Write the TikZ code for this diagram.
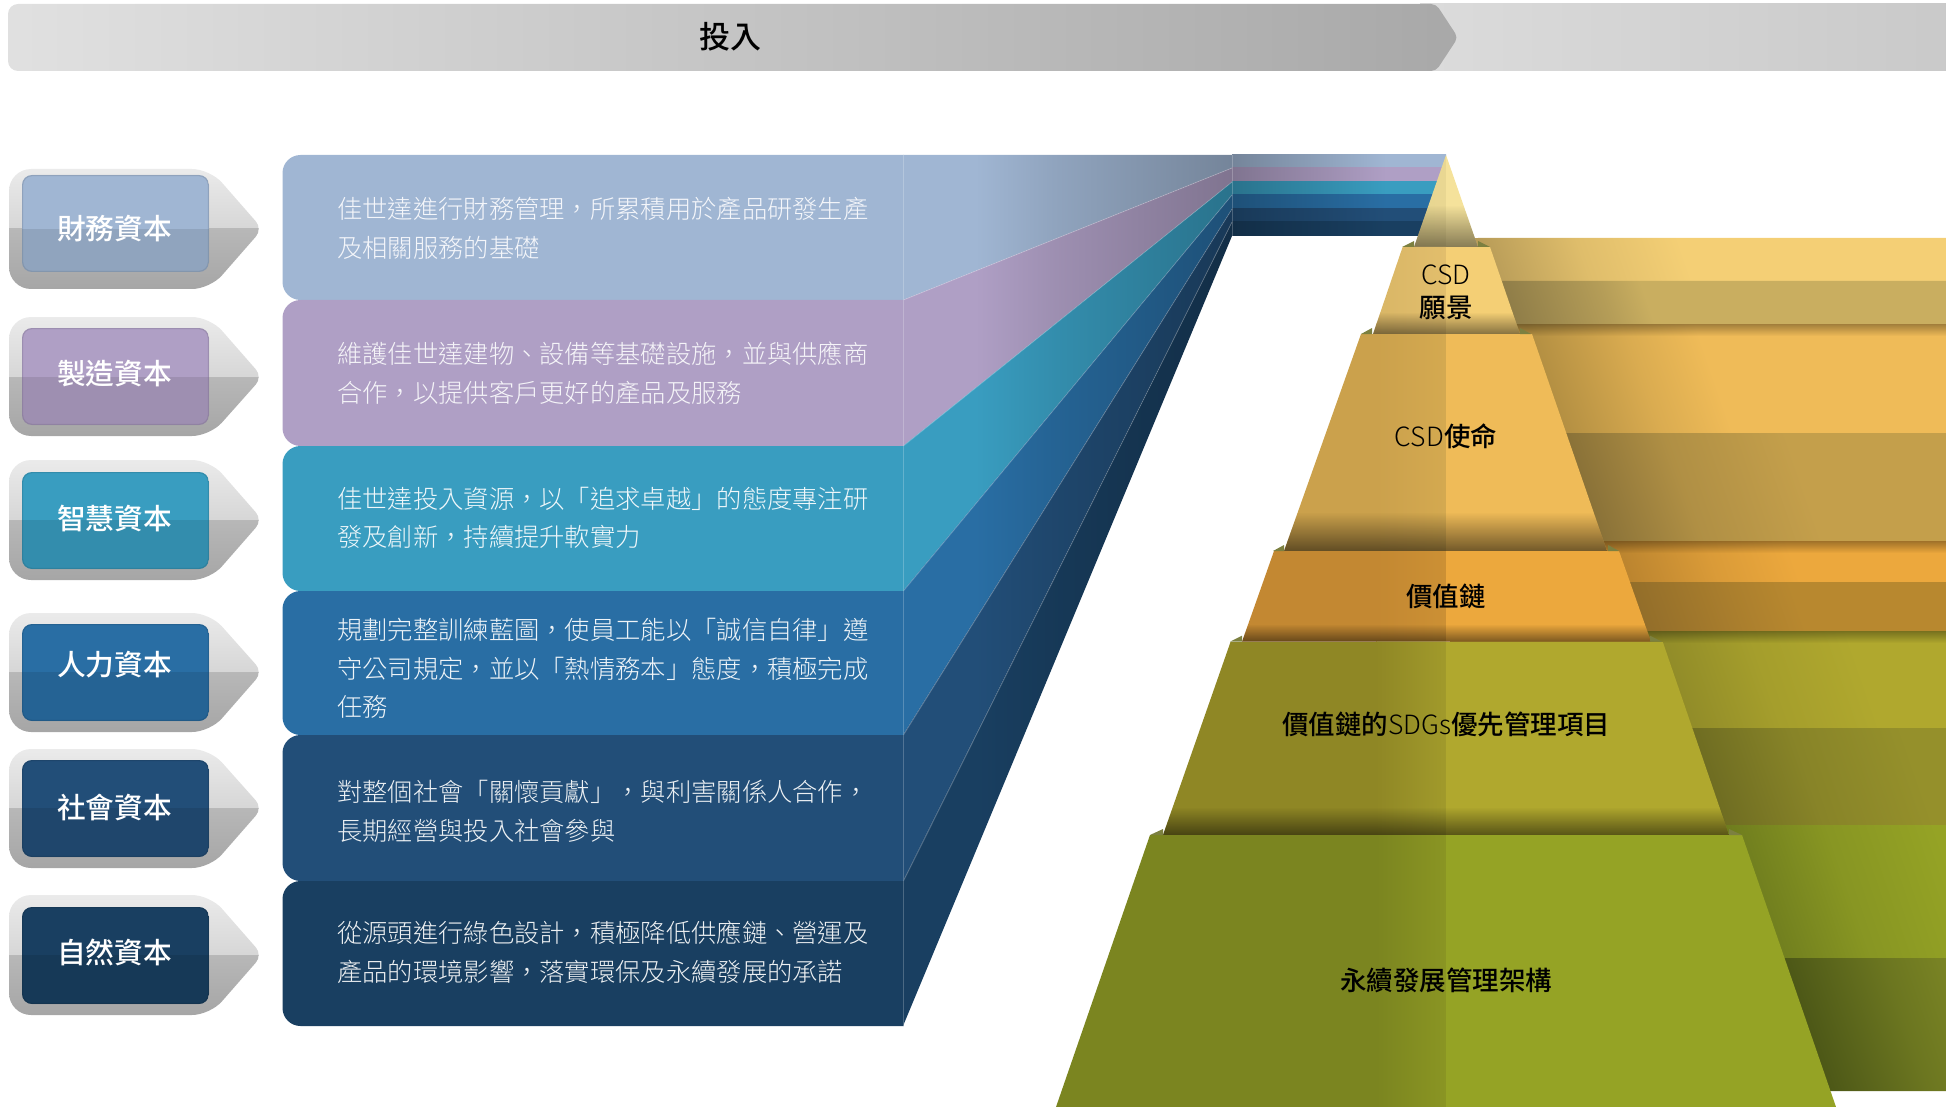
\documentclass[tikz,border=0pt]{standalone}
\usepackage{fontspec}
\setmainfont{Noto Sans CJK TC}
\newfontfamily\lightcjk{Noto Sans CJK TC Light}
\newfontfamily\medcjk{Noto Sans CJK TC Medium}
\usetikzlibrary{fadings}
\definecolor{cA}{HTML}{A0B6D3}
\definecolor{cB}{HTML}{AF9FC5}
\definecolor{cC}{HTML}{399DC0}
\definecolor{cD}{HTML}{296EA4}
\definecolor{cE}{HTML}{224E78}
\definecolor{cF}{HTML}{193F61}
\definecolor{wing}{HTML}{7C8040}
\tikzset{
  paneltext/.style={anchor=west,inner sep=0pt,align=left,font=\fontsize{25.3}{38.6}\selectfont\lightcjk},
  btntext/.style={inner sep=0pt,text=white,font=\fontsize{28.7}{30}\selectfont\medcjk},
  tiertext/.style={inner sep=0pt,text=black,font=\fontsize{26.5}{30}\selectfont},
  seam/.style={white,opacity=.22,line width=.8pt}
}
% panel: #1 colour, #2 top, #3 bottom
\newcommand{\mkpanel}[3]{%
  \fill[#1] (282.5,#2) [rounded corners=18pt] -- (282.5,#3) [sharp corners] -- (903.5,#3) -- (903.5,#2) [rounded corners=18pt] -- cycle;
}
% band: #1 colour, #2 #3 left y, #4 #5 y at the bend
\newcommand{\mkband}[5]{%
  \colorlet{bd}{#1!73!black}\colorlet{bm}{#1!90!black}\colorlet{bf}{#1}%
  \pgfdeclarehorizontalshading{bdgo#1}{100bp}{color(0bp)=(bf); color(25bp)=(bf); color(36bp)=(bf); color(48bp)=(bm); color(75bp)=(bd); color(100bp)=(bd)}%
  \pgfdeclarehorizontalshading{bdback#1}{100bp}{color(0bp)=(bd); color(25bp)=(bd); color(48bp)=(bm); color(61bp)=(bf); color(100bp)=(bf)}%
  \begin{scope}
    \clip (903,#2) -- (1232,#4) -- (1232,#5) -- (903,#3) -- cycle;
    \shade[shading=bdgo#1] (903,155) rectangle (1232,1026);
  \end{scope}
  \shade[shading=bdback#1] (1232,#4) rectangle (1446,#5);
}
% button: #1 colour, #2 outer top, #3 mid, #4 outer bottom, #5 inner top, #6 inner bottom
\newcommand{\mkbtn}[6]{%
  \begin{scope}
    \clip (9,#2) [rounded corners=22pt] -- (9,#4) [rounded corners=18pt] -- (210,#4) [rounded corners=10pt] -- (262.5,#3) [rounded corners=18pt] -- (210,#2) [rounded corners=22pt] -- cycle;
    \shade[top color=white!92!black,bottom color=white!84!black] (0,#2) rectangle (270,#3);
    \shade[top color=white!72!black,bottom color=white!65!black] (0,#3) rectangle (270,#4);
  \end{scope}
  \begin{scope}
    \clip[rounded corners=10pt] (22,#5) rectangle (209,#6);
    \fill[#1] (22,#5) rectangle (209,#3);
    \fill[#1!90!black] (22,#3) rectangle (209,#6);
    \draw[#1!65!black,opacity=.3,line width=2.4pt,rounded corners=10pt] (22,#5) rectangle (209,#6);
  \end{scope}
}
% ribbon: #1 top, #2 bottom, #3 x of the gradient start at the top, #4 stop (25+width/14), #5 dark, #6 full
\newcommand{\mkribbon}[6]{%
  \definecolor{rd}{HTML}{#5}\definecolor{rf}{HTML}{#6}\colorlet{rm}{rd!35!rf}%
  \pgfdeclarehorizontalshading{rib#1}{100bp}{color(0bp)=(rd); color(25bp)=(rd); color(32bp)=(rm); color(#4bp)=(rf); color(100bp)=(rf)}%
  \begin{scope}
    \clip (1450,#1) rectangle (1946,#2);
    \fill[rd] (1450,#1) rectangle (#3+60,#2);
    \begin{scope}[transform canvas={xslant=-.345}]
      \shade[shading=rib#1] (#3-.345*#1,#1) rectangle (#3-.345*#1+700,#2);
    \end{scope}
  \end{scope}
}
% tier: #1 yt,#2 yb,#3 xtl,#4 xtr,#5 xbl,#6 xbr,#7 left dark,#8 left near centre,#9 right
\newcommand{\mktier}[9]{%
  \definecolor{ta}{HTML}{#7}\definecolor{tb}{HTML}{#8}\definecolor{tc}{HTML}{#9}%
  \begin{scope}
    \clip (#3,#1) -- (#4,#1) -- (#6,#2) -- (#5,#2) -- cycle;
    \fill[ta] (#5,#1) rectangle (1376.5,#2);
    \shade[left color=ta,right color=tb] (1376,#1) rectangle (1446,#2);
    \fill[tc] (1446,#1) rectangle (#6,#2);
  \end{scope}
}
% dark zone at the foot of a tier: #1 yt,#2 yb,#3 xtl,#4 xtr,#5 xbl,#6 xbr,#7 start,#8 opacity
\newcommand{\mkfoot}[8]{%
  \begin{scope}
    \clip (#3,#1) -- (#4,#1) -- (#6,#2) -- (#5,#2) -- cycle;
    \fill[black,opacity=#8,path fading=north] (#5,#7) rectangle (#6,#2);
  \end{scope}
}
\newcommand{\mkshadow}[2]{%
  \fill[black,opacity=.32,path fading=south] (1450,#1) rectangle (1946,#2);
}
\newcommand{\mkwings}[3]{% #1 y, #2 half-width inner, #3 half-width outer
  \fill[wing] (1446-#3,#1) -- (1446-#2,#1-6) -- (1446-#2,#1) -- cycle;
  \fill[wing] (1446+#3,#1) -- (1446+#2,#1-6) -- (1446+#2,#1) -- cycle;
}
\begin{document}
\begin{tikzpicture}[x=1pt,y=-1pt]
\useasboundingbox (0,0) rectangle (1946,1107);
% header bar
\shade[left color=white!86!black,right color=white!79!black] (1420,4) rectangle (1946,71);
\shade[left color=white!88!black,right color=white!66!black,rounded corners=10pt]
  (8,4) -- (8,71) [rounded corners=5pt] -- (1436,71) -- (1458,37.5) -- (1436,4) [rounded corners=10pt] -- cycle;
\node[inner sep=0pt,text=black,font=\fontsize{31}{34}\selectfont\medcjk] (header) at (730,37) {投入};
% bands behind the panels
\mkband{cA}{155}{300}{155}{168}
\mkband{cB}{300}{446}{168}{182}
\mkband{cC}{446}{591}{182}{195}
\mkband{cD}{591}{735}{195}{209}
\mkband{cE}{735}{881}{209}{222}
\mkband{cF}{881}{1026}{222}{236}
\draw[seam] (903.5,300) -- (1232,168);
\draw[seam] (903.5,446) -- (1232,182);
\draw[seam] (903.5,591) -- (1232,195);
\draw[seam] (903.5,735) -- (1232,209);
\draw[seam] (903.5,881) -- (1232,222);
\draw[seam] (1232,155) -- (1232,236);
% panels
\mkpanel{cA}{155}{300}
\mkpanel{cB}{300}{446}
\mkpanel{cC}{446}{591}
\mkpanel{cD}{591}{735}
\mkpanel{cE}{735}{881}
\mkpanel{cF}{881}{1026}
\draw[seam] (903.5,155) -- (903.5,1026);
\node[paneltext,text=cA!12!white] (t1) at (337,228.5) {佳世達進行財務管理，所累積用於產品研發生產\\及相關服務的基礎};
\node[paneltext,text=cB!12!white] (t2) at (337,373) {維護佳世達建物、設備等基礎設施，並與供應商\\合作，以提供客戶更好的產品及服務};
\node[paneltext,text=cC!8!white] (t3) at (337,518) {佳世達投入資源，以「追求卓越」的態度專注研\\發及創新，持續提升軟實力};
\node[paneltext,text=cD!8!white] (t4) at (337,668.5) {規劃完整訓練藍圖，使員工能以「誠信自律」遵\\守公司規定，並以「熱情務本」態度，積極完成\\任務};
\node[paneltext,text=cE!8!white] (t5) at (337,811) {對整個社會「關懷貢獻」，與利害關係人合作，\\長期經營與投入社會參與};
\node[paneltext,text=cF!8!white] (t6) at (337,952.5) {從源頭進行綠色設計，積極降低供應鏈、營運及\\產品的環境影響，落實環保及永續發展的承諾};
% buttons
\mkbtn{cA}{169}{229}{289}{175}{272}
\mkbtn{cB}{317}{377}{436}{328}{425}
\mkbtn{cC}{460}{520}{580}{472}{569}
\mkbtn{cD}{613}{672}{732}{624}{721}
\mkbtn{cE}{749}{808}{868}{760}{857}
\mkbtn{cF}{895}{955}{1015}{907}{1004}
\node[btntext] (b1) at (114.5,229) {財務資本};
\node[btntext] (b2) at (114.5,374) {製造資本};
\node[btntext] (b3) at (114.5,519) {智慧資本};
\node[btntext] (b4) at (114.5,664.5) {人力資本};
\node[btntext] (b5) at (114.5,808) {社會資本};
\node[btntext] (b6) at (114.5,952.5) {自然資本};
% ribbons at right
\mkribbon{238}{281}{1478}{39.3}{B89C58}{F4CF75}
\mkribbon{281}{324}{1500}{35}{8F7D48}{C9AE60}
\mkribbon{324}{433}{1526}{37.1}{B38F42}{EFBB58}
\mkribbon{433}{541}{1566}{40.7}{8A7238}{C49F4B}
\mkribbon{541}{582}{1606}{37.9}{B8822E}{ECA83D}
\mkribbon{582}{631}{1630}{36.4}{936E2A}{B8882F}
\mkribbon{631}{728}{1648}{39.3}{8F8A28}{B0A82E}
\mkribbon{728}{825}{1692}{40}{6F6D22}{95902B}
\mkribbon{825}{958}{1725}{40}{6E7C1E}{95A325}
\mkribbon{958}{1091}{1785}{37.1}{4D5817}{7C8625}
\mkshadow{324}{336}
\mkshadow{541}{553}
\mkshadow{631}{643}
% pyramid
\mktier{155}{247}{1446}{1446}{1414}{1478}{E6D28F}{E9D792}{F5E29B}
\mkfoot{155}{247}{1446}{1446}{1414}{1478}{205}{.45}
\mktier{247}{334}{1402.6}{1490}{1373}{1520}{D9B666}{E2BE6C}{F4CF75}
\mkfoot{247}{334}{1402.6}{1490}{1373}{1520}{312}{.45}
\mktier{334}{551}{1361}{1532}{1284}{1607}{CBA14C}{D4A950}{EFBB58}
\mkfoot{334}{551}{1361}{1532}{1284}{1607}{512}{.52}
\mktier{551}{641.7}{1274}{1619}{1242}{1651}{C38832}{CC9034}{ECA83D}
\mkfoot{551}{641.7}{1274}{1619}{1242}{1651}{624}{.48}
\mktier{641.7}{835}{1230.6}{1662.7}{1163}{1729}{8F8725}{A19A2B}{B0A82E}
\mkfoot{641.7}{835}{1230.6}{1662.7}{1163}{1729}{807}{.5}
\mktier{835}{1107}{1150}{1742}{1056}{1836}{7B8520}{8A9523}{95A325}
\mkwings{247}{32}{44}
\mkwings{334}{74}{85}
\mkwings{551}{162}{173}
\mkwings{641.7}{204}{216}
\mkwings{835}{283}{296}
\node[tiertext] (csdv) at (1446,275) {\lightcjk CSD};
\node[tiertext] (vis) at (1446,308) {\medcjk 願景};
\node[tiertext] (mis) at (1446,436) {{\lightcjk CSD}{\medcjk 使命}};
\node[tiertext] (val) at (1446,596) {\medcjk 價值鏈};
\node[tiertext] (sdg) at (1446,724) {\medcjk 價值鏈的{\lightcjk SDGs}優先管理項目};
\node[tiertext] (base) at (1446,980) {\medcjk 永續發展管理架構};
\end{tikzpicture}
\end{document}
